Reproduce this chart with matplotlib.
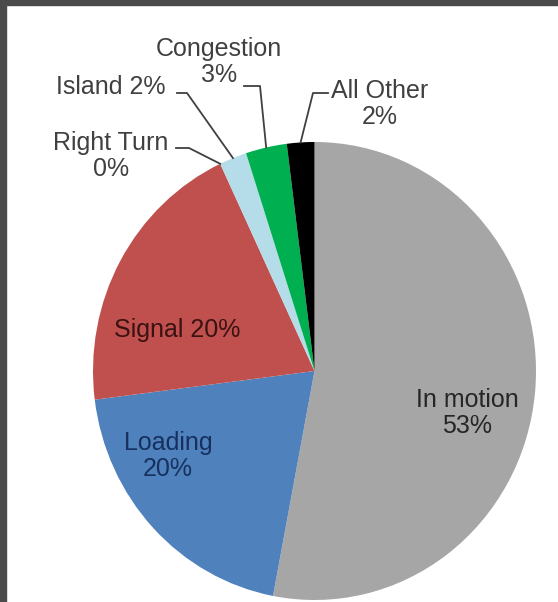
"""Pie of crash location categories with Excel-style leader labels."""
import matplotlib
matplotlib.use("Agg")
import matplotlib.pyplot as plt
from matplotlib.patches import Rectangle
import numpy as np

plt.rcParams["font.family"] = ["Liberation Sans", "DejaVu Sans"]

# ── data ──────────────────────────────────────────────
categories = ["In motion", "Loading", "Signal", "Right Turn",
              "Island", "Congestion", "All Other"]
shares = [53, 20, 20, 0, 2, 3, 2]
slice_colors = ["#A6A6A6", "#4F81BD", "#C0504D", "#F79646",
                "#B4DDE9", "#00B050", "#000000"]

W, H = 558, 602
CX, CY, RX, RY = 314.5, 371.0, 221.5, 229.0


def px(x, y):
    """pixel position (top-left origin) -> pie data coords"""
    return (x - CX) / RX, (CY - y) / RY


fig = plt.figure(figsize=(W / 100, H / 100), dpi=100, facecolor="white")
# dark frame along the top and left edge
fig.patches.append(Rectangle((0, 1 - 5 / H), 1, 5 / H, transform=fig.transFigure,
                             color="#4b4b4b", zorder=0))
fig.patches.append(Rectangle((0, 0), 6 / W, 1, transform=fig.transFigure,
                             color="#4b4b4b", zorder=0))

ax = fig.add_axes([(CX - RX) / W, (H - CY - RY) / H, 2 * RX / W, 2 * RY / H])
wedges, _ = ax.pie(shares, colors=slice_colors, startangle=90,
                   counterclock=False, radius=1.0,
                   wedgeprops=dict(linewidth=0))
ax.set_xlim(-1, 1)
ax.set_ylim(-1, 1)
ax.set_aspect("auto")
ax.axis("off")

fs = 18

# labels inside the big slices
inside = {
    "In motion": ((467, 413), "#262626", "In motion\n53%"),
    "Signal": ((177, 330), "#3a1212", "Signal 20%"),
    "Loading": ((168, 456), "#17305e", "Loading\n20%"),
}
for name, ((x, y), col, txt) in inside.items():
    ax.text(*px(x, y), txt, ha="center", va="center", fontsize=fs,
            color=col, linespacing=1.15, clip_on=False)

# outside labels: text pos, elbow start, elbow end
outside = {
    "Right Turn": ((111, 156), "Right Turn\n0%", (176, 148), (189, 148)),
    "Island": ((111, 87), "Island 2%", (177, 93), (187, 93)),
    "Congestion": ((219, 62), "Congestion\n3%", (244, 86), (260, 86)),
    "All Other": ((380, 104), "All Other\n2%", (328, 93), (313, 93)),
}
for name, ((x, y), txt, p0, p1) in outside.items():
    ax.text(*px(x, y), txt, ha="center", va="center", fontsize=fs,
            color="#404040", linespacing=1.15, clip_on=False)
    w = wedges[categories.index(name)]
    mid = np.deg2rad((w.theta1 + w.theta2) / 2)
    tip = (np.cos(mid), np.sin(mid))
    xs = [px(*p0)[0], px(*p1)[0], tip[0]]
    ys = [px(*p0)[1], px(*p1)[1], tip[1]]
    ax.plot(xs, ys, color="#404040", lw=1.3, clip_on=False, zorder=5)

fig.savefig("out.png", dpi=100, facecolor=fig.get_facecolor())
